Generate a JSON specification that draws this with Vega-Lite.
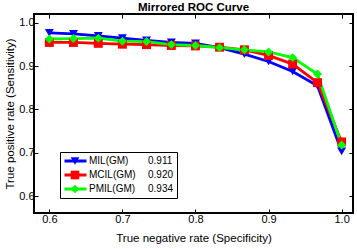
{
  "$schema": "https://vega.github.io/schema/vega-lite/v6.json",
  "width": 319,
  "height": 199,
  "autosize": {"type": "none"},
  "padding": {"left": 34, "top": 14, "right": 4, "bottom": 36},
  "background": "white",
  "config": {
    "font": "Liberation Sans",
    "view": {"stroke": "black", "strokeWidth": 2},
    "axis": {"labelFont": "Liberation Sans", "titleFont": "Liberation Sans", "labelColor": "black", "titleColor": "black", "tickColor": "black", "domainColor": "black", "labelFontSize": 11, "titleFontSize": 11.5, "titleFontWeight": "normal", "grid": false, "labelFlush": false, "labelOverlap": false, "labelBound": false}
  },
  "title": {"text": "Mirrored ROC Curve", "fontSize": 11.5, "fontWeight": "bold", "font": "Liberation Sans", "color": "black", "offset": 0, "anchor": "middle"},
  "data": {"values": [
    {"model": "MIL(GM)", "auc": "0.911", "tnr": 0.6, "tpr": 0.977},
    {"model": "MIL(GM)", "auc": "0.911", "tnr": 0.633, "tpr": 0.975},
    {"model": "MIL(GM)", "auc": "0.911", "tnr": 0.667, "tpr": 0.970},
    {"model": "MIL(GM)", "auc": "0.911", "tnr": 0.7, "tpr": 0.965},
    {"model": "MIL(GM)", "auc": "0.911", "tnr": 0.733, "tpr": 0.960},
    {"model": "MIL(GM)", "auc": "0.911", "tnr": 0.767, "tpr": 0.955},
    {"model": "MIL(GM)", "auc": "0.911", "tnr": 0.8, "tpr": 0.953},
    {"model": "MIL(GM)", "auc": "0.911", "tnr": 0.833, "tpr": 0.943},
    {"model": "MIL(GM)", "auc": "0.911", "tnr": 0.867, "tpr": 0.928},
    {"model": "MIL(GM)", "auc": "0.911", "tnr": 0.9, "tpr": 0.911},
    {"model": "MIL(GM)", "auc": "0.911", "tnr": 0.933, "tpr": 0.888},
    {"model": "MIL(GM)", "auc": "0.911", "tnr": 0.967, "tpr": 0.855},
    {"model": "MIL(GM)", "auc": "0.911", "tnr": 1.0, "tpr": 0.703},
    {"model": "MCIL(GM)", "auc": "0.920", "tnr": 0.6, "tpr": 0.955},
    {"model": "MCIL(GM)", "auc": "0.920", "tnr": 0.633, "tpr": 0.955},
    {"model": "MCIL(GM)", "auc": "0.920", "tnr": 0.667, "tpr": 0.953},
    {"model": "MCIL(GM)", "auc": "0.920", "tnr": 0.7, "tpr": 0.951},
    {"model": "MCIL(GM)", "auc": "0.920", "tnr": 0.733, "tpr": 0.950},
    {"model": "MCIL(GM)", "auc": "0.920", "tnr": 0.767, "tpr": 0.948},
    {"model": "MCIL(GM)", "auc": "0.920", "tnr": 0.8, "tpr": 0.947},
    {"model": "MCIL(GM)", "auc": "0.920", "tnr": 0.833, "tpr": 0.944},
    {"model": "MCIL(GM)", "auc": "0.920", "tnr": 0.867, "tpr": 0.938},
    {"model": "MCIL(GM)", "auc": "0.920", "tnr": 0.9, "tpr": 0.925},
    {"model": "MCIL(GM)", "auc": "0.920", "tnr": 0.933, "tpr": 0.905},
    {"model": "MCIL(GM)", "auc": "0.920", "tnr": 0.967, "tpr": 0.862},
    {"model": "MCIL(GM)", "auc": "0.920", "tnr": 1.0, "tpr": 0.725},
    {"model": "PMIL(GM)", "auc": "0.934", "tnr": 0.6, "tpr": 0.963},
    {"model": "PMIL(GM)", "auc": "0.934", "tnr": 0.633, "tpr": 0.964},
    {"model": "PMIL(GM)", "auc": "0.934", "tnr": 0.667, "tpr": 0.965},
    {"model": "PMIL(GM)", "auc": "0.934", "tnr": 0.7, "tpr": 0.958},
    {"model": "PMIL(GM)", "auc": "0.934", "tnr": 0.733, "tpr": 0.957},
    {"model": "PMIL(GM)", "auc": "0.934", "tnr": 0.767, "tpr": 0.950},
    {"model": "PMIL(GM)", "auc": "0.934", "tnr": 0.8, "tpr": 0.948},
    {"model": "PMIL(GM)", "auc": "0.934", "tnr": 0.833, "tpr": 0.943},
    {"model": "PMIL(GM)", "auc": "0.934", "tnr": 0.867, "tpr": 0.938},
    {"model": "PMIL(GM)", "auc": "0.934", "tnr": 0.9, "tpr": 0.933},
    {"model": "PMIL(GM)", "auc": "0.934", "tnr": 0.933, "tpr": 0.920},
    {"model": "PMIL(GM)", "auc": "0.934", "tnr": 0.967, "tpr": 0.882},
    {"model": "PMIL(GM)", "auc": "0.934", "tnr": 1.0, "tpr": 0.718}
  ]},
  "layer": [
    {
      "encoding": {
        "x": {"field": "tnr", "type": "quantitative", "title": "True negative rate (Specificity)",
          "scale": {"domain": [0.579, 1.0156], "nice": false, "zero": false},
          "axis": {"orient": "bottom", "values": [0.6, 0.7, 0.8, 0.9, 1.0], "labelExpr": "format(datum.value, '.1f')", "tickSize": -4, "labelPadding": 4, "domain": false, "titlePadding": 8}},
        "y": {"field": "tpr", "type": "quantitative", "title": "True positive rate (Sensitivity)",
          "scale": {"domain": [0.5607, 1.0208], "nice": false, "zero": false},
          "axis": {"orient": "left", "values": [0.6, 0.7, 0.8, 0.9, 1.0], "labelExpr": "format(datum.value, '.1f')", "tickSize": -4, "labelPadding": 4, "domain": false, "titlePadding": 3}}
      },
      "layer": [
        {
          "mark": {"type": "line", "strokeWidth": 2.8},
          "encoding": {
            "color": {"field": "model", "type": "nominal",
              "scale": {"domain": ["MIL(GM)", "MCIL(GM)", "PMIL(GM)"], "range": ["#0000ff", "#ff0000", "#00ff00"]},
              "legend": {"orient": "none", "legendX": 26, "legendY": 138, "title": null, "symbolType": "stroke", "symbolSize": 484, "symbolStrokeWidth": 2.8, "clipHeight": 12, "rowPadding": 2, "padding": 3, "labelFontSize": 10, "labelColor": "black", "labelFont": "Liberation Sans", "labelOffset": 1}}
          }
        },
        {
          "mark": {"type": "point", "filled": true, "opacity": 1, "size": 80},
          "encoding": {
            "shape": {"field": "auc", "type": "nominal",
              "scale": {"domain": ["0.911", "0.920", "0.934"], "range": ["triangle-down", "square", "diamond"]},
              "legend": {"orient": "none", "legendX": 26, "legendY": 138, "title": null, "symbolSize": 75, "clipHeight": 12, "rowPadding": 2, "padding": 3, "symbolOffset": 7, "labelFontSize": 10, "labelColor": "black", "labelFont": "Liberation Sans", "labelOffset": 68, "strokeColor": "black", "symbolStrokeWidth": 0}},
            "fill": {"field": "auc", "type": "nominal",
              "scale": {"domain": ["0.911", "0.920", "0.934"], "range": ["#0000ff", "#ff0000", "#00ff00"]},
              "legend": {"orient": "none", "legendX": 26, "legendY": 138, "title": null}}
          }
        }
      ]
    },
    {
      "mark": {"type": "line", "opacity": 0},
      "encoding": {
        "x": {"field": "tnr", "type": "quantitative", "axis": {"orient": "top", "values": [0.6, 0.7, 0.8, 0.9, 1.0], "labels": false, "title": null, "tickSize": -4, "domain": false}},
        "y": {"field": "tpr", "type": "quantitative", "axis": {"orient": "right", "values": [0.6, 0.7, 0.8, 0.9, 1.0], "labels": false, "title": null, "tickSize": -4, "domain": false}},
        "detail": {"field": "model", "type": "nominal"}
      }
    }
  ],
  "resolve": {"axis": {"x": "independent", "y": "independent"}}
}
